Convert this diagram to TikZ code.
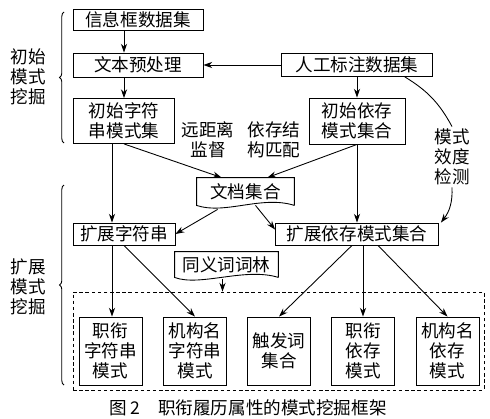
\documentclass[tikz,border=0pt]{standalone}
\usepackage{fontspec}
\setmainfont{Noto Sans CJK SC}
\usetikzlibrary{arrows.meta,calc,decorations.pathreplacing}

\begin{document}
\begin{tikzpicture}[x=0.02cm,y=-0.02cm,line width=0.5pt,
	box/.style={draw,inner sep=1pt,align=center,font=\fontsize{10}{11.5}\selectfont},
	lab/.style={inner sep=1pt,align=center,font=\fontsize{10}{11.5}\selectfont},
	res/.style={box,minimum width=1.26cm,minimum height=1.36cm},
	>={Stealth[length=5pt,width=3.5pt]}]
	\useasboundingbox (0,0) rectangle (490,419);

	\node[box,minimum width=2.6cm,minimum height=0.42cm] (info) at (138,20) {信息框数据集};
	\node[box,minimum width=2.6cm,minimum height=0.48cm] (pre) at (138,65) {文本预处理};
	\node[box,minimum width=3.02cm,minimum height=0.46cm] (man) at (357,65) {人工标注数据集};
	\node[box,minimum width=2.02cm,minimum height=0.9cm] (istr) at (124,121) {初始字符\\串模式集};
	\node[box,minimum width=1.92cm,minimum height=0.92cm] (idep) at (357,121) {初始依存\\模式集合};
	\node[lab] (far) at (208,140) {远距离\\监督};
	\node[lab] (match) at (274,140) {依存结\\构匹配};
	\node[lab] (check) at (452,157) {模式\\效度\\检测};

	% document shapes
	\node[lab,minimum width=1.94cm,minimum height=0.54cm] (doc) at (245.5,191.5) {文档集合};
	\draw (doc.south east) -- (doc.north east) -- (doc.north west) -- (doc.south west)
		.. controls (225,215) and (262,195) .. (doc.south east);
	\node[box,minimum width=2.04cm,minimum height=0.44cm] (estr) at (124,234) {扩展字符串};
	\node[box,minimum width=3.26cm,minimum height=0.44cm] (edep) at (357,234) {扩展依存模式集合};
	\node[lab,minimum width=2.06cm,minimum height=0.5cm] (syn) at (226.5,264.5) {同义词词林};
	\draw (syn.south east) -- (syn.north east) -- (syn.north west) -- (syn.south west)
		.. controls (200,287) and (245,267) .. (syn.south east);

	% result group
	\node[draw,dash pattern=on 2pt off 1.5pt,minimum width=8.22cm,minimum height=1.96cm] (grp) at (278.5,341) {};
	\node[res] (jstr) at (110.5,351) {职衔\\字符串\\模式};
	\node[res] (ostr) at (195,351) {机构名\\字符串\\模式};
	\node[res] (trig) at (279,351) {触发词\\集合};
	\node[res] (jdep) at (363,351) {职衔\\依存\\模式};
	\node[res] (odep) at (447.5,351) {机构名\\依存\\模式};

	% braces and side labels
	\draw[decorate,decoration={brace,amplitude=2.5pt}] (64,143) -- (64,12);
	\draw[decorate,decoration={brace,amplitude=2.5pt}] (64,385) -- (64,185);
	\node[lab] (lab1) at (28,77) {初始\\模式\\挖掘};
	\node[lab] (lab2) at (28,287) {扩展\\模式\\挖掘};
	\node[lab] (cap) at (248,408) {图 2\quad 职衔履历属性的模式挖掘框架};

	% connectors
	\draw[->] (info.south -| istr) -- (pre.north -| istr);
	\draw[->] (pre.south -| istr) -- (istr.north);
	\draw[->] (man.west) -- (pre.east);
	\draw[->] (man.south) -- (idep.north);
	\draw[->] (istr.south) -- ($(doc.north west)+(25,0)$);
	\draw[->] (idep.south) -- ($(doc.north east)+(-27,0)$);
	\draw[->] ($(doc.south west)+(21,4)$) -- (estr.east);
	\draw[->] ($(doc.south)+(10,0)$) -- ($(edep.north west)+(0,7)$);
	\draw[->] ($(istr.south)+(-12,0)$) coordinate (s1) -- (s1 |- estr.north);
	\draw[->] ($(estr.south)+(-12,0)$) coordinate (s2) -- (s2 |- jstr.north);
	\draw[->] (estr.south) -- (ostr.north);
	\draw[->] (idep.south) -- (edep.north);
	\draw[->] ($(edep.south)+(-5,0)$) -- (trig.north);
	\draw[->] ($(edep.south)+(6,0)$) coordinate (s3) -- (s3 |- jdep.north);
	\draw[->] ($(edep.south)+(21,0)$) -- (odep.north);
	\draw[->] ($(syn.south)+(-4,2)$) coordinate (s4) -- (s4 |- grp.north);
	\draw ($(man.south east)+(-28,0)$) to[bend left=15] (check.north);
	\draw[->] (check.south) to[bend left=20] ($(edep.north east)+(2,0)$);
\end{tikzpicture}
\end{document}
